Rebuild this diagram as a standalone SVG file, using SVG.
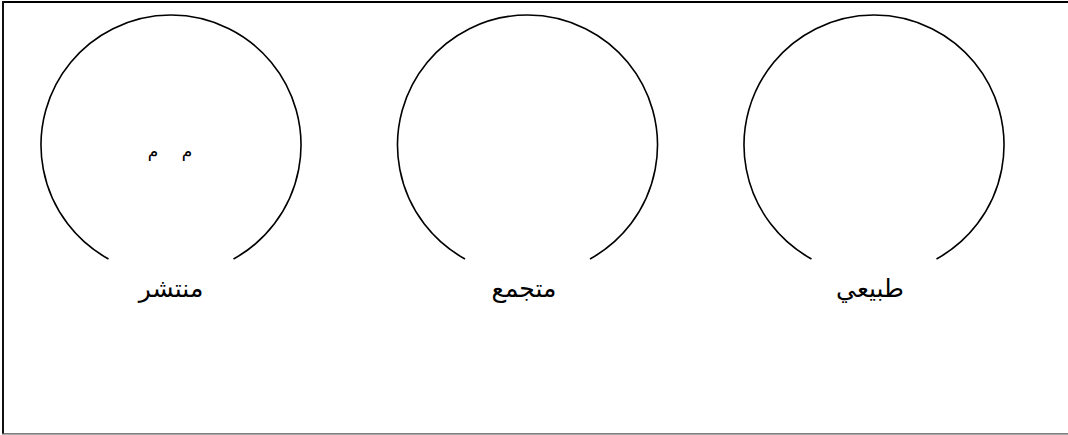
<svg xmlns="http://www.w3.org/2000/svg" width="1068" height="435" viewBox="0 0 1068 435">
<style>
.arc{fill:none;stroke:#000;stroke-width:1.6}
.lbl{font-family:"DejaVu Sans","Noto Sans",sans-serif;font-size:25px;fill:#000;text-anchor:middle}
.sm{font-family:"DejaVu Sans","Noto Sans",sans-serif;font-size:17px;fill:#000;text-anchor:middle}
</style>
<rect width="1068" height="435" fill="#fff"/>
<g id="frame">
<line x1="2" y1="2" x2="1068" y2="2" stroke="#000" stroke-width="2"/>
<line x1="3" y1="1" x2="3" y2="434" stroke="#111" stroke-width="2"/>
<line x1="2" y1="433.8" x2="1068" y2="433.8" stroke="#555" stroke-width="1.2"/>
</g>
<g id="node-scattered">
<path class="arc" d="M 108.5 259 A 130 130 0 1 1 233.5 259"/>
<text class="sm" x="153" y="157">م</text>
<text class="sm" x="187" y="157">م</text>
<text class="lbl" x="171" y="297">منتشر</text>
</g>
<g id="node-clustered">
<path class="arc" d="M 465 259 A 130 130 0 1 1 590 259"/>
<text class="lbl" x="524" y="297">متجمع</text>
</g>
<g id="node-natural">
<path class="arc" d="M 811.5 259 A 130 130 0 1 1 936.5 259"/>
<text class="lbl" x="870" y="297">طبيعي</text>
</g>
<g id="connectors"></g>
</svg>
